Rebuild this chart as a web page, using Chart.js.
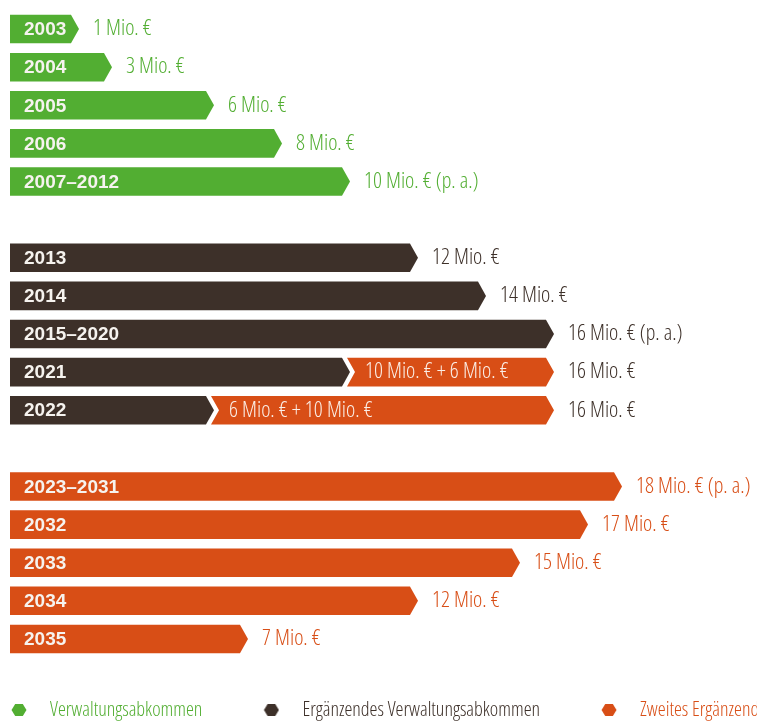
<!DOCTYPE html>
<html>
<head>
<meta charset="utf-8">
<script src="https://cdn.jsdelivr.net/npm/chart.js@4.4.1/dist/chart.umd.min.js"></script>
<style>
  html, body { margin: 0; padding: 0; background: #ffffff; overflow: hidden; width: 757px; height: 722px; }
  #wrap { position: absolute; left: -50px; top: 0; width: 1080px; height: 730px; }
</style>
</head>
<body>
<div id="wrap"><canvas id="c" width="1080" height="730"></canvas></div>
<script>
// ---- data ----
const categories = ['2003', '2004', '2005', '2006', '2007–2012', '',
                    '2013', '2014', '2015–2020', '2021', '2022', '',
                    '2023–2031', '2032', '2033', '2034', '2035'];
const seriesNames = ['Verwaltungsabkommen', 'Ergänzendes Verwaltungsabkommen', 'Zweites Ergänzendes Verwaltungsabkommen'];
const verwaltung = [1, 3, 6, 8, 10, null, null, null, null, null, null, null, null, null, null, null, null];
const ergaenzend = [null, null, null, null, null, null, 12, 14, 16, 10, 6, null, null, null, null, null, null];
const zweites    = [null, null, null, null, null, null, null, null, null, 6, 10, null, 18, 17, 15, 12, 7];
const totalLabels = ['1 Mio. €', '3 Mio. €', '6 Mio. €', '8 Mio. €', '10 Mio. € (p. a.)', '',
                     '12 Mio. €', '14 Mio. €', '16 Mio. € (p. a.)', '16 Mio. €', '16 Mio. €', '',
                     '18 Mio. € (p. a.)', '17 Mio. €', '15 Mio. €', '12 Mio. €', '7 Mio. €'];
const segmentLabels = ['', '', '', '', '', '', '', '', '', '10 Mio. € + 6 Mio. €', '6 Mio. € + 10 Mio. €', '', '', '', '', '', ''];

const colors = ['#52ae32', '#3d3029', '#d84e16'];
const COND = "'Open Sans', 'DejaVu Sans Condensed', sans-serif";
const VALUE_FONT = "300 condensed 22px " + COND;

let ZERO_PX = 0;

// arrow-shaped bar ends
Chart.BarElement.prototype.draw = function (ctx) {
  const p = this.getProps(['x', 'y', 'base', 'height']);
  const o = this.options;
  const top = p.y - p.height / 2, bot = p.y + p.height / 2;
  const left = Math.min(p.x, p.base), right = Math.max(p.x, p.base);
  const d = 8, g = 5;
  const notch = left - ZERO_PX > 1;
  ctx.save();
  ctx.fillStyle = o.backgroundColor;
  ctx.beginPath();
  ctx.moveTo(notch ? left - d + g : left, top);
  ctx.lineTo(right - d, top);
  ctx.lineTo(right, p.y);
  ctx.lineTo(right - d, bot);
  if (notch) {
    ctx.lineTo(left - d + g, bot);
    ctx.lineTo(left + g, p.y);
  } else {
    ctx.lineTo(left, bot);
  }
  ctx.closePath();
  ctx.fill();
  ctx.restore();
};

// hexagon legend marker (drawn 3px right of the image centre)
function hexagon(color) {
  const c = document.createElement('canvas');
  c.width = 22; c.height = 14;
  const x = c.getContext('2d');
  x.fillStyle = color;
  const cx = 14;
  x.beginPath();
  x.moveTo(cx - 7.5, 7); x.lineTo(cx - 3.8, 1); x.lineTo(cx + 3.8, 1); x.lineTo(cx + 7.5, 7); x.lineTo(cx + 3.8, 13); x.lineTo(cx - 3.8, 13);
  x.closePath(); x.fill();
  return c;
}
const hexes = colors.map(hexagon);

const labelPlugin = {
  id: 'labelPlugin',
  beforeDatasetsDraw(chart) {
    ZERO_PX = chart.scales.x.getPixelForValue(0);
  },
  afterDatasetsDraw(chart) {
    const ctx = chart.ctx;
    ctx.save();
    ctx.textBaseline = 'middle';
    ctx.textAlign = 'left';
    ctx.font = VALUE_FONT;
    categories.forEach((cat, i) => {
      let first = -1, last = -1;
      chart.data.datasets.forEach((ds, di) => {
        if (ds.data[i] !== null && ds.data[i] !== undefined) {
          if (first < 0) first = di;
          last = di;
        }
      });
      if (last < 0) return;
      const el = chart.getDatasetMeta(last).data[i];
      if (totalLabels[i]) {
        ctx.fillStyle = colors[first];
        ctx.fillText(totalLabels[i], el.x + 14, el.y);
      }
      if (segmentLabels[i]) {
        ctx.fillStyle = '#fbeee6';
        ctx.fillText(segmentLabels[i], el.base + 15, el.y);
      }
    });
    ctx.restore();
  }
};

const datasets = [verwaltung, ergaenzend, zweites].map((d, k) => ({
  label: seriesNames[k],
  data: d,
  backgroundColor: colors[k],
  borderWidth: 0,
  barPercentage: 0.75,
  categoryPercentage: 1,
  minBarLength: 69
}));

new Chart(document.getElementById('c'), {
  type: 'bar',
  data: { labels: categories, datasets },
  plugins: [labelPlugin],
  options: {
    indexAxis: 'y',
    responsive: false,
    animation: false,
    layout: { padding: { top: 10, left: 0, right: 0, bottom: 0 } },
    scales: {
      x: { display: false, stacked: true, min: 0, max: 30 },
      y: {
        stacked: true,
        grid: { display: false, drawTicks: false },
        border: { display: false },
        afterFit(scale) {
          scale.width = 60;
          scale.paddingTop = 0;
          scale.paddingBottom = 0;
        },
        ticks: {
          z: 1,
          mirror: true,
          padding: 14,
          labelOffset: 1,
          autoSkip: false,
          color: '#f6f3ef',
          font: { family: "'Liberation Sans', Arial, sans-serif", size: 19, weight: 'bold' }
        }
      }
    },
    plugins: {
      tooltip: { enabled: false },
      legend: {
        position: 'bottom',
        align: 'start',
        labels: {
          usePointStyle: true,
          pointStyleWidth: 48,
          padding: 42,
          font: { family: COND, size: 20, weight: '300 condensed' },
          generateLabels(chart) {
            const items = Chart.defaults.plugins.legend.labels.generateLabels(chart);
            items.forEach((it, k) => {
              it.fontColor = colors[k];
              it.pointStyle = hexes[k];
            });
            return items;
          }
        }
      }
    }
  }
});
</script>
</body>
</html>
